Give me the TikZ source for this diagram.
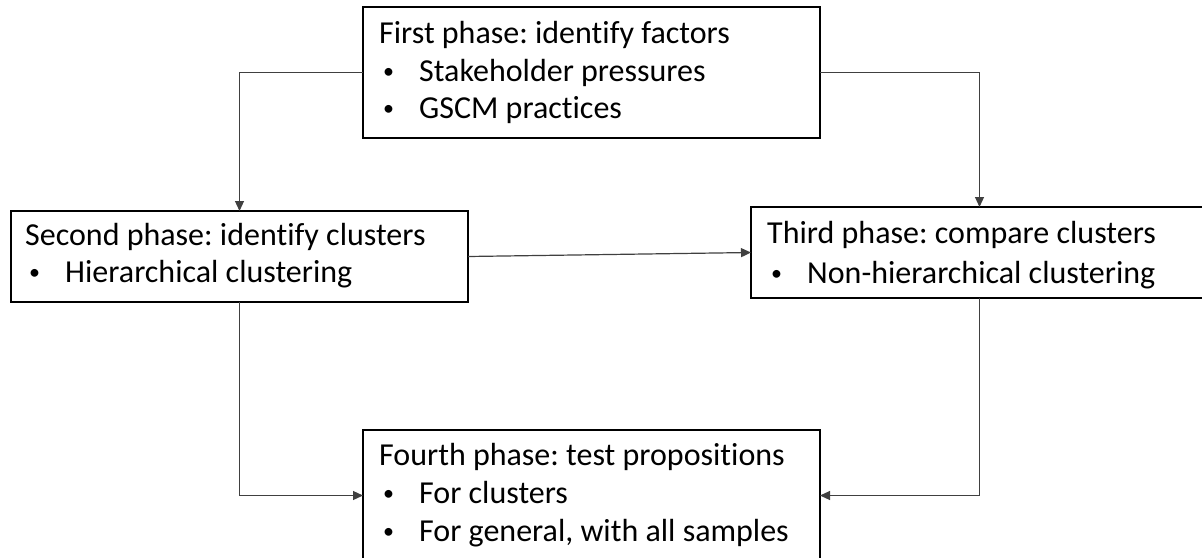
\documentclass[tikz,border=0pt]{standalone}
\usepackage{fontspec}
\setmainfont[Ligatures=NoCommon]{Carlito}
\usetikzlibrary{arrows.meta,calc}
\frenchspacing
\newcommand{\phbul}{\makebox[40pt][l]{\hspace{4pt}\raisebox{3pt}{\fontsize{22}{22}\selectfont •}}}
\begin{document}
\begin{tikzpicture}[x=1pt,y=-1pt,
  phase/.style={draw=black,line width=1.8pt,minimum width=457pt,anchor=north west,inner sep=0pt,outer sep=0pt},
  txt/.style={anchor=base west,inner sep=0pt,font=\fontsize{32}{38}\selectfont},
  conn/.style={draw=black!75,line width=1.2pt,-{Triangle[length=10pt,width=9pt]}}]
\useasboundingbox (0,0) rectangle (1202,557);
\fill[white] (0,0) rectangle (1202,557);
\node[phase,minimum height=131pt] (p1) at (363,7) {};
\node[phase,minimum height=91pt] (p2) at (11,211) {};
\node[phase,minimum height=91pt] (p3) at (751,207) {};
\node[phase,minimum height=131pt] (p4) at (363,430) {};
% texts
\node[txt] (t1) at ($(p1.north west)+(16,36)$) {First phase: identify factors};
\node[txt] (t1a) at ($(p1.north west)+(16,74)$) {\phbul Stakeholder pressures};
\node[txt] (t1b) at ($(p1.north west)+(16,111)$) {\phbul GSCM practices};
\node[txt] (t2) at ($(p2.north west)+(14,34)$) {Second phase: identify clusters};
\node[txt] (t2a) at ($(p2.north west)+(14,71)$) {\phbul Hierarchical clustering};
\node[txt] (t3) at ($(p3.north west)+(16,36)$) {Third phase: compare clusters};
\node[txt] (t3a) at ($(p3.north west)+(16,76)$) {\phbul Non-hierarchical clustering};
\node[txt] (t4) at ($(p4.north west)+(16,35)$) {Fourth phase: test propositions};
\node[txt] (t4a) at ($(p4.north west)+(16,73)$) {\phbul For clusters};
\node[txt] (t4b) at ($(p4.north west)+(16,111)$) {\phbul For general, with all samples};
% connectors
\draw[conn] (p1.west) -| (p2.north);
\draw[conn] (p1.east) -| (p3.north);
\draw[conn] (p2.east) -- (p3.west);
\draw[conn] (p2.south) |- (p4.west);
\draw[conn] (p3.south) |- (p4.east);
\end{tikzpicture}
\end{document}
